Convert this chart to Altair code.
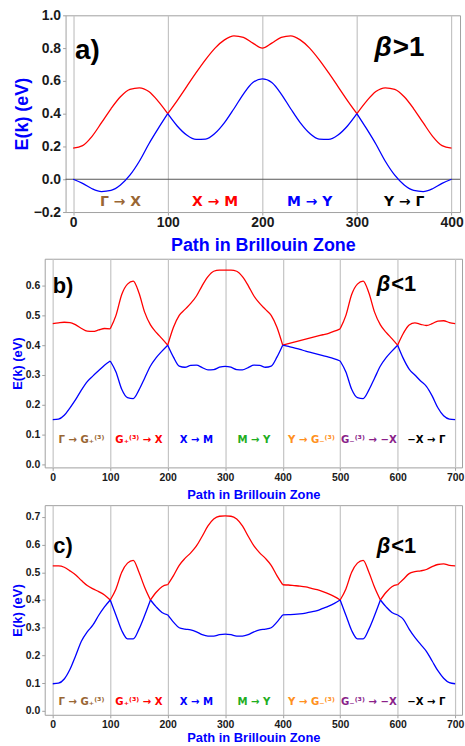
import altair as alt
import pandas as pd

FONT = "Liberation Sans"
PATH_FONT = "DejaVu Sans"
RED = "#ff0000"
BLUE = "#0000ff"
FRAME = "#a0a0a0"
GRID = "#c4c4c4"
XTITLE = "Path in Brillouin Zone"
YTITLE = "E(k) (eV)"

# ---------------- panel a) beta > 1 ----------------
a_k = list(range(0, 401, 10))
a_upper = [0.19, 0.205, 0.262, 0.345, 0.43, 0.503, 0.548, 0.558, 0.535, 0.475, 0.40,
           0.48, 0.565, 0.65, 0.73, 0.80, 0.85, 0.875, 0.865, 0.83, 0.80,
           0.83, 0.865, 0.875, 0.85, 0.80, 0.73, 0.65, 0.565, 0.48, 0.40,
           0.475, 0.535, 0.558, 0.548, 0.503, 0.43, 0.345, 0.262, 0.205, 0.19]
a_lower = [0.0, -0.025, -0.058, -0.075, -0.068, -0.035, 0.025, 0.11, 0.215, 0.31, 0.40,
           0.325, 0.27, 0.243, 0.245, 0.28, 0.345, 0.43, 0.52, 0.59, 0.612,
           0.59, 0.52, 0.43, 0.345, 0.28, 0.245, 0.243, 0.27, 0.325, 0.40,
           0.31, 0.215, 0.11, 0.025, -0.035, -0.068, -0.075, -0.058, -0.025, 0.0]
a_breaks = [0, 100, 300, 400]
a_ticks_x = [0, 100, 200, 300, 400]
a_ticks_y = [-0.2, 0.0, 0.2, 0.4, 0.6, 0.8, 1.0]
a_paths = ["Γ → X", "X → M", "M → Y", "Y → Γ"]
a_path_k = [50, 150, 250, 350]
a_path_col = ["#996633", RED, BLUE, "#000000"]

# ---------------- panel b) beta < 1 ----------------
b_k = list(range(0, 701, 10))
b_upper = [0.472, 0.475, 0.477, 0.476, 0.468, 0.456, 0.447, 0.446, 0.451, 0.456, 0.455,
           0.50, 0.57, 0.605, 0.615, 0.575, 0.51, 0.468, 0.443, 0.422, 0.40,
           0.46, 0.50, 0.52, 0.54, 0.565, 0.60, 0.63, 0.648, 0.652, 0.652,
           0.652, 0.648, 0.63, 0.60, 0.565, 0.54, 0.52, 0.50, 0.46, 0.40,
           0.405, 0.41, 0.415, 0.42, 0.425, 0.43, 0.435, 0.44, 0.447, 0.455,
           0.50, 0.57, 0.605, 0.615, 0.575, 0.51, 0.468, 0.443, 0.422, 0.40,
           0.44, 0.468, 0.475, 0.47, 0.466, 0.472, 0.481, 0.482, 0.476, 0.472]
b_lower = [0.15, 0.152, 0.165, 0.19, 0.218, 0.25, 0.278, 0.297, 0.315, 0.333, 0.347,
           0.31, 0.252, 0.224, 0.221, 0.25, 0.29, 0.33, 0.358, 0.38, 0.40,
           0.36, 0.33, 0.326, 0.332, 0.333, 0.325, 0.317, 0.318, 0.326, 0.329,
           0.326, 0.318, 0.317, 0.325, 0.333, 0.332, 0.326, 0.33, 0.36, 0.40,
           0.396, 0.391, 0.386, 0.38, 0.375, 0.37, 0.365, 0.36, 0.354, 0.347,
           0.31, 0.252, 0.224, 0.221, 0.25, 0.29, 0.33, 0.358, 0.38, 0.40,
           0.355, 0.32, 0.30, 0.28, 0.262, 0.23, 0.19, 0.163, 0.152, 0.15]
b_breaks = [0, 100, 200, 400, 500, 600, 700]

# ---------------- panel c) beta < 1 ----------------
c_k = list(range(0, 701, 10))
c_upper = [0.523, 0.523, 0.518, 0.505, 0.49, 0.47, 0.452, 0.44, 0.43, 0.418, 0.40,
           0.44, 0.50, 0.533, 0.543, 0.50, 0.445, 0.40, 0.428, 0.448, 0.455,
           0.488, 0.525, 0.55, 0.57, 0.595, 0.63, 0.667, 0.692, 0.702, 0.703,
           0.702, 0.692, 0.667, 0.63, 0.595, 0.57, 0.55, 0.525, 0.488, 0.455,
           0.454, 0.452, 0.45, 0.447, 0.442, 0.437, 0.43, 0.422, 0.412, 0.40,
           0.44, 0.50, 0.533, 0.543, 0.50, 0.445, 0.40, 0.428, 0.448, 0.455,
           0.475, 0.495, 0.502, 0.505, 0.51, 0.52, 0.528, 0.53, 0.525, 0.523]
c_lower = [0.098, 0.10, 0.115, 0.15, 0.20, 0.252, 0.285, 0.31, 0.345, 0.375, 0.40,
           0.345, 0.29, 0.26, 0.26, 0.295, 0.345, 0.40, 0.375, 0.355, 0.346,
           0.32, 0.30, 0.295, 0.292, 0.285, 0.275, 0.27, 0.27, 0.275, 0.277,
           0.275, 0.27, 0.27, 0.275, 0.285, 0.292, 0.295, 0.30, 0.32, 0.346,
           0.347, 0.348, 0.35, 0.353, 0.357, 0.362, 0.37, 0.378, 0.388, 0.40,
           0.345, 0.29, 0.26, 0.26, 0.295, 0.345, 0.40, 0.375, 0.355, 0.346,
           0.33, 0.295, 0.265, 0.24, 0.215, 0.18, 0.145, 0.118, 0.102, 0.098]
c_breaks = [0, 100, 170, 200, 400, 500, 570, 600, 700]

bc_ticks_x = [0, 100, 200, 300, 400, 500, 600, 700]
b_ticks_y = [0.0, 0.1, 0.2, 0.3, 0.4, 0.5, 0.6]
c_ticks_y = [0.0, 0.1, 0.2, 0.3, 0.4, 0.5, 0.6, 0.7]
bc_paths = ["Γ → G₊⁽³⁾", "G₊⁽³⁾ → X", "X → M", "M → Y", "Y → G₋⁽³⁾", "G₋⁽³⁾ → −X", "−X → Γ"]
bc_path_k = [50, 150, 250, 350, 450, 550, 650]
bc_path_col = ["#996633", RED, BLUE, "#1fae1f", "#ff9020", "#8a1f8a", "#000000"]


def band_frame(k, upper, lower, breaks):
    rows = []
    for s in range(len(breaks) - 1):
        lo, hi = breaks[s], breaks[s + 1]
        for kk, u, l in zip(k, upper, lower):
            if lo <= kk <= hi:
                rows.append({"k": kk, "E": u, "c": RED, "seg": f"u{s}"})
                rows.append({"k": kk, "E": l, "c": BLUE, "seg": f"l{s}"})
    return pd.DataFrame(rows)


def panel(df, xdom, ydom, w, h, xt, yt, sizes, paths, path_k, path_col, path_E,
          letter, letter_pos, beta_sym, beta_pos, zero_line=False):
    lab_fs, title_fs, path_fs, big_fs, lpad, xtpad, ytpad = sizes
    xscale = alt.Scale(domain=xdom, nice=False, zero=False)
    yscale = alt.Scale(domain=ydom, nice=False, zero=False)
    xaxis = alt.Axis(values=xt, format="d", grid=True, gridColor=GRID, gridWidth=1.2,
                     domain=False, ticks=True, tickColor=FRAME, tickSize=3,
                     labelFont=FONT, labelFontWeight="bold", labelFontSize=lab_fs,
                     labelColor="#1a1a1a", labelPadding=lpad, labelFlush=False,
                     title=XTITLE, titleFont=FONT, titleFontSize=title_fs,
                     titleFontWeight="bold", titleColor=BLUE, titlePadding=xtpad)
    yaxis = alt.Axis(values=yt, format=".1f", grid=False, domain=False, ticks=True,
                     tickColor=FRAME, tickSize=3, labelFont=FONT, labelFontWeight="bold",
                     labelFontSize=lab_fs, labelColor="#1a1a1a", labelPadding=2,
                     title=YTITLE, titleFont=FONT, titleFontSize=title_fs,
                     titleFontWeight="bold", titleColor=BLUE, titlePadding=ytpad)
    X = alt.X("k:Q", scale=xscale, axis=xaxis)
    Y = alt.Y("E:Q", scale=yscale, axis=yaxis)

    layers = []
    if zero_line:
        layers.append(alt.Chart(pd.DataFrame({"E": [0.0]})).mark_rule(
            color="#555555", strokeWidth=1).encode(y=alt.Y("E:Q", scale=yscale, axis=yaxis)))
    layers.append(alt.Chart(df).mark_line(interpolate="monotone", strokeWidth=1.3).encode(
        x=X, y=Y, color=alt.Color("c:N", scale=None), detail="seg:N"))

    pdf = pd.DataFrame({"t": paths, "k": path_k, "E": [path_E] * len(paths), "c": path_col})
    layers.append(alt.Chart(pdf).mark_text(font=PATH_FONT, fontWeight="bold", fontSize=path_fs,
                                           baseline="middle", align="center").encode(
        x=X, y=Y, text="t:N", color=alt.Color("c:N", scale=None)))

    ldf = pd.DataFrame({"t": [letter, beta_sym[1]], "k": [letter_pos[0], beta_pos[0]],
                        "E": [letter_pos[1], beta_pos[1]]})
    layers.append(alt.Chart(ldf).mark_text(font=FONT, fontWeight="bold", fontSize=big_fs,
                                           baseline="middle", align="left", color="#000000").encode(
        x=X, y=Y, text="t:N"))
    bdf = pd.DataFrame({"t": [beta_sym[0]], "k": [beta_pos[0]], "E": [beta_pos[1]]})
    layers.append(alt.Chart(bdf).mark_text(font=FONT, fontWeight="bold", fontStyle="italic",
                                           fontSize=big_fs, baseline="middle", align="right",
                                           dx=-1, color="#000000").encode(
        x=X, y=Y, text="t:N"))

    return alt.layer(*layers).properties(
        width=w, height=h, view=alt.ViewBackground(stroke=FRAME, strokeWidth=1, fill="white"))


chart_a = panel(band_frame(a_k, a_upper, a_lower, a_breaks), [-8, 409], [-0.2, 1.0], 397, 198,
                a_ticks_x, a_ticks_y, (14, 18, 14, 28, 1, 7, 2),
                a_paths, a_path_k, a_path_col, -0.14,
                "a)", (2, 0.78), ("β", ">1"), (338, 0.80), zero_line=True)
chart_b = panel(band_frame(b_k, b_upper, b_lower, b_breaks), [-14, 712], [-0.01, 0.69], 420, 210,
                bc_ticks_x, b_ticks_y, (10.5, 13, 10.2, 22, 2, 6, 1),
                bc_paths, bc_path_k, bc_path_col, 0.083,
                "b)", (0, 0.60), ("β", "<1"), (589, 0.605))
chart_c = panel(band_frame(c_k, c_upper, c_lower, c_breaks), [-14, 712], [-0.014, 0.742], 420, 211,
                bc_ticks_x, c_ticks_y, (10.5, 13, 10.2, 22, 2, 1, 1),
                bc_paths, bc_path_k, bc_path_col, 0.032,
                "c)", (1, 0.594), ("β", "<1"), (589, 0.594))

spacer = alt.Chart(pd.DataFrame({"k": [0]})).mark_point(opacity=0).encode(
    x=alt.X("k:Q", axis=None), y=alt.Y("k:Q", axis=None)).properties(
    width=1, height=1, view=alt.ViewBackground(strokeOpacity=0))

row_a = alt.hconcat(spacer, chart_a, spacing=20, bounds="flush")

chart = alt.vconcat(row_a, chart_b, chart_c, spacing=2).properties(
    padding={"left": 10, "top": 5, "right": 0, "bottom": 0},
    background="white",
)

chart.save("out.html", embed_options={"renderer": "svg", "actions": False})
